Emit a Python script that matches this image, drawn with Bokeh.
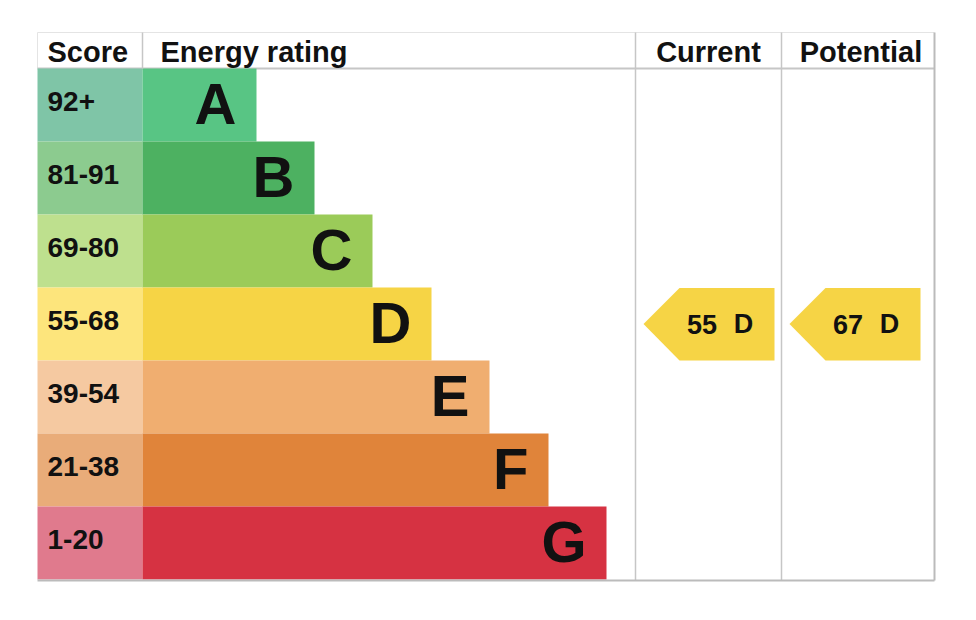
from bokeh.core.properties import value
from bokeh.embed import file_html
from bokeh.models import ColumnDataSource, Range1d
from bokeh.plotting import figure
from bokeh.resources import INLINE

# data
ratings = ["A", "B", "C", "D", "E", "F", "G"]
score_bands = ["92+", "81-91", "69-80", "55-68", "39-54", "21-38", "1-20"]
band_min = [92, 81, 69, 55, 39, 21, 1]
band_widths = [114, 172, 230, 289, 347, 406, 464]
bar_colors = ["#58c584", "#4db161", "#9bcb59", "#f6d445", "#f0ae70", "#e0843a", "#d63242"]
score_colors = ["#7fc5a7", "#8ccb8f", "#bee08e", "#fde57c", "#f5c9a1", "#e9ac79", "#e07a8d"]
headers = ["Score", "Energy rating", "Current", "Potential"]
current = 55
potential = 67

FONT = value("Liberation Sans")

# layout (screen pixels; the ranges below make data units equal pixels)
left, right = 37, 934
top, head_bottom = 32, 68
row_h = 73
score_right = 142
cur_left, pot_left = 635, 781
bottom = head_bottom + row_h * len(ratings)
shift = 0.37  # svg text sits lower than the alphabetic baseline, in em

p = figure(width=960, height=604, output_backend="svg", toolbar_location=None,
           x_range=Range1d(0, 960), y_range=Range1d(604, 0),
           min_border=0, outline_line_color=None)
p.axis.visible = False
p.grid.visible = False

row_top = [head_bottom + row_h * i for i in range(len(ratings))]
row_bot = [t + row_h for t in row_top]
row_mid = [t + row_h / 2 for t in row_top]
bar_end = [score_right + w for w in band_widths]

rows = ColumnDataSource(data=dict(
    top=row_top, bottom=row_bot, mid=row_mid,
    bar_end=bar_end, letter_x=[e - 20 for e in bar_end],
    letter_y=[m + 20 - shift * 58 for m in row_mid],
    score_y=[m + 7 - shift * 28 for m in row_mid],
    rating=ratings, band=score_bands, bar_color=bar_colors, score_color=score_colors,
))

# grid lines under the bars
p.segment(x0=[left, left], y0=[top, top], x1=[right, left], y1=[top, head_bottom],
          line_color="#e4e4e4", line_width=1)
p.segment(x0=[left], y0=[head_bottom], x1=[right], y1=[head_bottom],
          line_color="#c6c6c6", line_width=2)

# score cells and rating bars
p.quad(left=left, right=score_right, top="top", bottom="bottom",
       fill_color="score_color", line_color=None, source=rows)
p.quad(left=score_right, right="bar_end", top="top", bottom="bottom",
       fill_color="bar_color", line_color=None, source=rows)

p.text(x=47, y="score_y", text="band", source=rows, text_font=FONT,
       text_font_style="bold", text_font_size="28px", text_color="#111111",
       text_align="left", text_baseline="alphabetic")
p.text(x="letter_x", y="letter_y", text="rating", source=rows, text_font=FONT,
       text_font_style="bold", text_font_size="58px", text_color="#111111",
       text_align="right", text_baseline="alphabetic")

# column lines and outer border
p.segment(x0=[score_right, cur_left, pot_left], y0=[top, top, top],
          x1=[score_right, cur_left, pot_left], y1=[head_bottom, bottom + 1, bottom + 1],
          line_color="#c6c6c6", line_width=1.5)
p.segment(x0=[right, left], y0=[top, bottom + 1], x1=[right, right], y1=[bottom + 1, bottom + 1],
          line_color="#bbbbbb", line_width=2)

# header texts
p.text(x=[47, 160, (cur_left + pot_left) / 2, (pot_left + right) / 2 + 3],
       y=[62 - shift * 29] * 4, text=headers, text_font=FONT, text_font_style="bold",
       text_font_size="29px", text_color="#111111",
       text_align=["left", "left", "center", "center"], text_baseline="alphabetic")


def band_of(v):
    for i, lo in enumerate(band_min):
        if v >= lo:
            return i
    return len(band_min) - 1


# current / potential arrows
arrow_xs, arrow_ys, colors, num_x, let_x, txt_y, nums, lets = [], [], [], [], [], [], [], []
for v, col_l, col_r, pad in [(current, cur_left, pot_left, 7), (potential, pot_left, right, 14)]:
    i = band_of(v)
    tip = col_l + 8
    body = tip + 36
    end = col_r - pad
    t, b, m = row_top[i] + 0.5, row_bot[i], row_mid[i]
    arrow_xs.append([tip, body, end, end, body])
    arrow_ys.append([m, t, t, b, b])
    colors.append(bar_colors[i])
    num_x.append(body + 22.5)
    let_x.append(body + 64)
    txt_y.append(m + 10 - shift * 27)
    nums.append(str(v))
    lets.append(ratings[i])

p.patches(xs=arrow_xs, ys=arrow_ys, fill_color=colors, line_color=None)
p.text(x=num_x, y=txt_y, text=nums, text_font=FONT, text_font_style="bold",
       text_font_size="27px", text_color="#111111", text_align="center",
       text_baseline="alphabetic")
p.text(x=let_x, y=txt_y, text=lets, text_font=FONT, text_font_style="bold",
       text_font_size="27px", text_color="#111111", text_align="center",
       text_baseline="alphabetic")

open("out.html", "w").write(file_html(p, INLINE))
